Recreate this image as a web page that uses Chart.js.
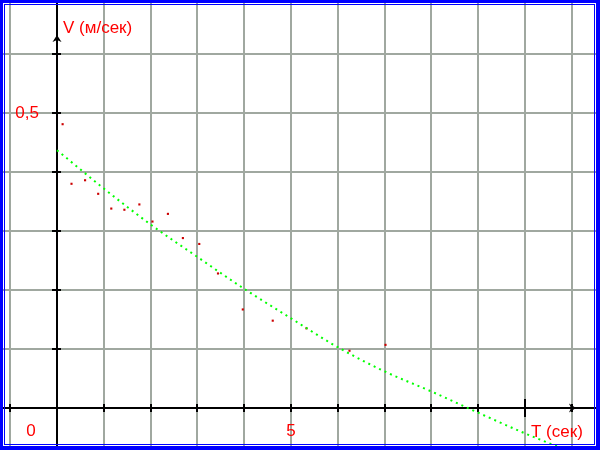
<!DOCTYPE html>
<html>
<head>
<meta charset="utf-8">
<script src="https://cdn.jsdelivr.net/npm/chart.js@4/dist/chart.umd.min.js"></script>
<style>
  html, body { margin: 0; padding: 0; background: #fff; }
  #wrap { width: 600px; height: 450px; }
</style>
</head>
<body>
<div id="wrap"><canvas id="chart" width="600" height="450"></canvas></div>
<script>
// --- данные ---
const measT = [0.12, 0.31, 0.60, 0.88, 1.16, 1.44, 1.76, 2.04, 2.37, 2.69, 3.04, 3.44, 3.97, 4.61, 5.33, 6.25, 7.02];
const measV = [0.481, 0.380, 0.386, 0.363, 0.338, 0.336, 0.345, 0.316, 0.329, 0.288, 0.278, 0.228, 0.167, 0.148, 0.135, 0.097, 0.107];
const fitT = [0, 1, 2, 3, 4, 5, 6, 7, 8, 9, 10, 11];
const fitV = [0.437, 0.372, 0.311, 0.256, 0.202, 0.152, 0.103, 0.062, 0.028, -0.008, -0.043, -0.075];
const xTicks = [-1, 0, 1, 2, 3, 4, 5, 6, 7, 8, 9, 10, 11];
const yTicks = [0, 0.1, 0.2, 0.3, 0.4, 0.5, 0.6];
const xLabels = [{ v: 0, text: '0' }, { v: 5, text: '5' }];
const yLabels = [{ v: 0.5, text: '0,5' }];
const xTitle = 'T (сек)';
const yTitle = 'V (м/сек)';

const GRID = '#a0a8a0';
const RED = '#ff0000';
const FONT = "17px 'Liberation Sans', Arial, sans-serif";

// оси, стрелки, подписи и рамка
const axesPlugin = {
    id: 'axes',
    beforeDatasetsDraw(chart) {
        const { ctx, scales: { x, y }, width, height } = chart;
        const x0 = Math.round(x.getPixelForValue(0));
        const y0 = Math.round(y.getPixelForValue(0));
        ctx.save();
        ctx.strokeStyle = '#000';
        ctx.fillStyle = '#000';
        ctx.lineWidth = 2;
        ctx.beginPath();
        ctx.moveTo(x0, 0); ctx.lineTo(x0, height);
        ctx.moveTo(0, y0); ctx.lineTo(width, y0);
        ctx.stroke();

        // засечки
        ctx.beginPath();
        yTicks.forEach(v => {
            if (v === 0) return;
            const py = Math.round(y.getPixelForValue(v));
            ctx.moveTo(x0 - 5, py); ctx.lineTo(x0 + 4, py);
        });
        xTicks.forEach(v => {
            if (v === 0) return;
            const px = Math.round(x.getPixelForValue(v));
            const h = v === 10 ? 9 : 4;
            ctx.moveTo(px, y0 - h); ctx.lineTo(px, y0 + h);
        });
        ctx.stroke();

        // стрелки
        const ay = Math.round(y.getPixelForValue(0.627));
        ctx.beginPath();
        ctx.moveTo(x0, ay - 3);
        ctx.lineTo(x0 + 4.5, ay + 4);
        ctx.lineTo(x0, ay + 2);
        ctx.lineTo(x0 - 4.5, ay + 4);
        ctx.closePath();
        ctx.fill();
        const ax = Math.round(x.getPixelForValue(11));
        ctx.beginPath();
        ctx.moveTo(ax + 4, y0);
        ctx.lineTo(ax - 3, y0 - 4.5);
        ctx.lineTo(ax - 1, y0);
        ctx.lineTo(ax - 3, y0 + 4.5);
        ctx.closePath();
        ctx.fill();
        ctx.restore();
    },
    afterDraw(chart) {
        const { ctx, scales: { x, y }, width, height } = chart;
        const x0 = x.getPixelForValue(0);
        const y0 = y.getPixelForValue(0);
        ctx.save();
        ctx.fillStyle = RED;
        ctx.font = FONT;
        ctx.textBaseline = 'alphabetic';
        ctx.textAlign = 'center';
        xLabels.forEach(l => {
            const px = l.v === 0 ? x0 - 26 : x.getPixelForValue(l.v);
            ctx.fillText(l.text, px, y0 + 28);
        });
        ctx.textAlign = 'right';
        yLabels.forEach(l => {
            ctx.fillText(l.text, x0 - 18, y.getPixelForValue(l.v) + 5);
        });
        ctx.textAlign = 'left';
        ctx.fillText(yTitle, x0 + 6, 33);
        ctx.fillText(xTitle, x.getPixelForValue(10) + 6, y0 + 29);

        // рамка
        ctx.fillStyle = '#0000ff';
        ctx.fillRect(0, 0, width, 3);
        ctx.fillRect(0, 0, 3, height);
        ctx.fillRect(width - 4, 0, 4, height);
        ctx.fillRect(0, height - 4, width, 4);
        ctx.strokeStyle = '#0000ff';
        ctx.lineWidth = 1;
        ctx.strokeRect(4.5, 4.5, width - 10, height - 10);
        ctx.restore();
    }
};

new Chart(document.getElementById('chart'), {
    type: 'scatter',
    data: {
        datasets: [
            {
                label: 'fit',
                data: fitT.map((t, i) => ({ x: t, y: fitV[i] })),
                showLine: true,
                borderColor: '#00ff00',
                borderWidth: 2,
                borderDash: [2, 4],
                pointRadius: 0,
                cubicInterpolationMode: 'monotone'
            },
            {
                label: 'meas',
                data: measT.map((t, i) => ({ x: t, y: measV[i] })),
                showLine: false,
                pointStyle: 'rect',
                pointRadius: 1.5,
                pointBorderWidth: 0,
                backgroundColor: '#cc0000',
                borderColor: '#cc0000'
            }
        ]
    },
    options: {
        responsive: false,
        animation: false,
        layout: { padding: 0, autoPadding: false },
        plugins: { legend: { display: false }, tooltip: { enabled: false } },
        scales: {
            x: {
                type: 'linear',
                min: -1.218, max: 11.603,
                afterBuildTicks: s => { s.ticks = xTicks.map(v => ({ value: v })); },
                ticks: { display: false },
                border: { display: false },
                grid: { color: GRID, lineWidth: 2, drawTicks: false }
            },
            y: {
                type: 'linear',
                min: -0.0712, max: 0.6915,
                afterBuildTicks: s => { s.ticks = yTicks.map(v => ({ value: v })); },
                ticks: { display: false },
                border: { display: false },
                grid: { color: GRID, lineWidth: 2, drawTicks: false }
            }
        }
    },
    plugins: [axesPlugin]
});
</script>
</body>
</html>
